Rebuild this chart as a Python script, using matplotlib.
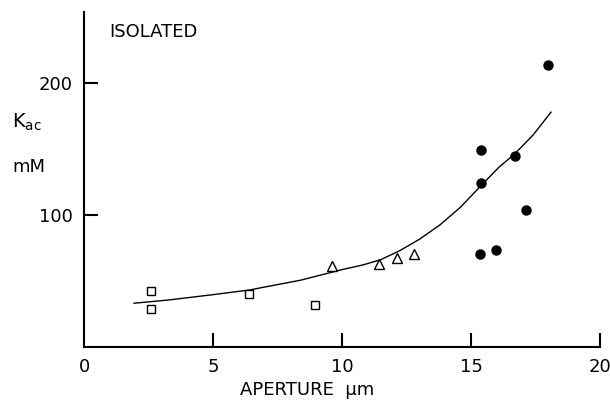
import numpy as np
import matplotlib.pyplot as plt

# data (aperture in um, K_ac in mM)
sq_x = [2.6, 2.6, 6.4, 8.95]
sq_y = [42, 28.5, 40, 32]
tri_x = [9.6, 11.45, 12.15, 12.8]
tri_y = [61, 62.5, 67.5, 70]
dot_x = [15.35, 15.4, 15.4, 15.95, 16.7, 17.15, 18.0]
dot_y = [70, 124.5, 149.5, 73.5, 145, 104, 214]

# fitted curve, traced point by point
fit_x = [1.94, 3.3, 5.0, 6.4, 8.4, 10.0, 10.8, 11.5, 12.25, 13.0, 13.8,
         14.6, 15.4, 16.1, 16.65, 17.4, 18.1]
fit_y = [33, 35.5, 39.5, 43, 50.5, 58.5, 62, 66, 73, 81.5, 92.5,
         106, 122.5, 136.5, 145.5, 160.5, 178]

x_ticks = [0, 5, 10, 15, 20]
y_ticks = [100, 200]

fig = plt.figure(figsize=(6.1, 4.0), dpi=100)
ax = fig.add_axes([84/610, 1-346.7/400, (600-84)/610, (346.7-12)/400])

ax.plot(fit_x, fit_y, color='black', lw=1.0)
ax.plot(sq_x, sq_y, 's', ms=5.5, mfc='white', mec='black', mew=1.0)
ax.plot(tri_x, tri_y, '^', ms=6.5, mfc='white', mec='black', mew=1.0)
ax.plot(dot_x, dot_y, 'o', ms=6.5, color='black')

ax.set_xlim(0, 20)
ax.set_ylim(0, 254)
ax.set_xticks(x_ticks)
ax.set_yticks(y_ticks)
ax.spines['top'].set_visible(False)
ax.spines['right'].set_visible(False)
for s in ['left', 'bottom']:
    ax.spines[s].set_linewidth(1.5)
ax.tick_params(direction='in', length=10, width=1.5, labelsize=13, pad=8)
ax.tick_params(axis='x', pad=8)
# no tick drawn at the origin
ax.xaxis.get_major_ticks()[0].tick1line.set_visible(False)

fig.text(109/610, 1-32/400, 'ISOLATED', fontsize=13, va='center', ha='left')
fig.text(12/610, 1-122/400, r'K$_{\mathregular{ac}}$', fontsize=14, va='center', ha='left')
fig.text(12/610, 1-167/400, 'mM', fontsize=13, va='center', ha='left')
fig.text(307/610, 1-390/400, 'APERTURE  µm', fontsize=13, va='center', ha='center')

fig.savefig('out.png', dpi=100)
